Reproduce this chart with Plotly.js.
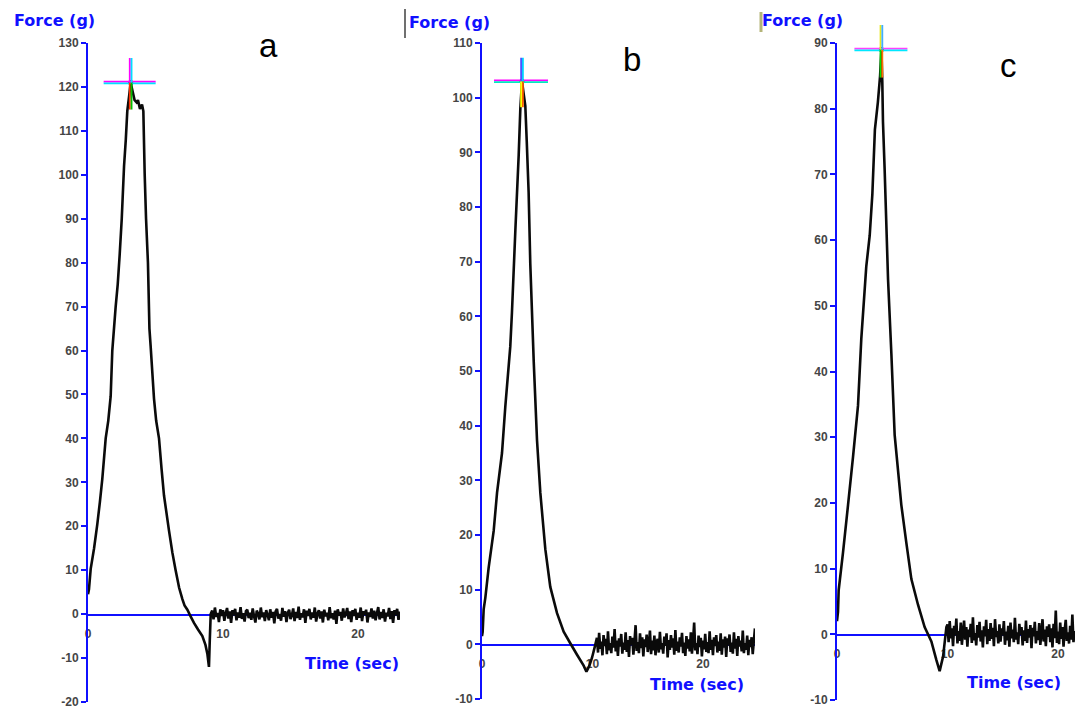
<!DOCTYPE html>
<html><head><meta charset="utf-8">
<script src="https://cdn.plot.ly/plotly-3.0.1.min.js"></script>
<style>html,body{margin:0;padding:0;background:#fff}#chart{width:1075px;height:711px}</style>
</head><body><div id="chart"></div>
<script>
// ---------- DATA ----------
// Panel a: main force trace (time in s, force in g)
const aTime  = [0, 0.07, 0.2, 0.45, 0.69, 0.88, 1.06, 1.31, 1.5, 1.68, 1.8, 2.05, 2.2, 2.35, 2.5, 2.67, 2.8, 2.91, 3.05, 3.16, 3.3, 3.45, 3.6, 3.7, 3.85, 4.0, 4.1, 4.2, 4.3, 4.44, 4.55, 4.64, 4.89, 5.05, 5.26, 5.45, 5.63, 6.0, 6.25, 6.49, 6.75, 6.99, 7.15, 7.36, 7.6, 7.85, 8.15, 8.47, 8.7, 8.84, 8.96, 9.02, 9.09];
const aForce = [4.5, 5.6, 10.3, 15, 20.5, 25.5, 30.8, 40, 44, 49.6, 60, 70, 75, 82, 90, 102, 108, 114.5, 118, 121, 119, 117, 116.5, 117, 115, 116, 114.5, 100, 90, 80, 65, 61, 49, 44, 40, 33, 27, 19, 14, 10, 6, 3.4, 2, 1, -0.5, -2, -3.5, -5, -7, -9, -12, -6, 0];
const aNoiseStart = 9.2, aNoiseStep = 0.1;
const aNoise = [0.8,-1.2,1.5,-0.6,0.3,-1.8,1.1,-0.4,0.9,-1.5,0.2,1.4,-1.0,0.6,-2.0,0.9,-0.3,1.2,-1.4,0.4,
-0.8,1.6,-1.1,0.2,-1.7,0.7,1.0,-0.9,0.3,-1.3,1.3,-0.5,-1.9,0.8,0.1,-1.2,1.5,-0.7,0.4,-1.6,
0.9,-0.2,-1.4,1.1,-0.8,0.5,-2.1,0.6,1.2,-1.0,0.0,-1.5,1.4,-0.6,0.7,-1.8,0.3,1.0,-1.1,-0.3,
1.3,-1.6,0.5,-0.9,1.7,-1.3,0.2,-0.7,1.1,-2.0,0.8,-0.4,1.2,-1.2,0.4,-0.8,1.5,-1.7,0.1,0.9,
-1.0,0.6,-1.9,1.0,-0.5,0.3,-1.4,1.6,-0.9,0.2,-1.2,0.8,-2.2,1.1,-0.3,0.5,-1.5,1.3,-0.7,0.0,
1.4,-1.1,0.6,-1.8,0.9,-0.4,1.2,-1.3,0.3,-0.8,1.5,-1.6,0.7,-0.2,1.0,-1.9,0.4,-0.6,1.3,-1.0,
0.8,-1.4,0.2,1.6,-1.2,0.5,-0.9,1.1,-1.7,0.3,-0.5,1.4,-1.1,0.7,-2.0,0.9,-0.3,1.2,-1.3,0.6];

// Panel b
const bTime  = [0, 0.06, 0.15, 0.3, 0.6, 1.06, 1.36, 1.81, 2.11, 2.56, 2.71, 3.02, 3.32, 3.47, 3.62, 3.75, 3.92, 4.05, 4.22, 4.37, 4.68, 4.98, 5.28, 5.73, 6.18, 6.79, 7.39, 7.99, 8.6, 9.2, 9.45, 9.7, 9.95, 10.2];
const bForce = [1.5, 2.3, 6.4, 8.5, 14, 20.8, 27.7, 35, 43.5, 54.5, 60.7, 75.8, 89.5, 98, 103, 101, 98.5, 92, 82.7, 69.6, 51.8, 37.3, 27.7, 17.4, 10.5, 5.7, 2.3, 0.2, -1.9, -3.9, -5.0, -4.0, -2.5, -0.5];
const bNoiseStart = 10.4, bNoiseStep = 0.1;
const bNoise = [1.2,-1.5,2.1,-0.8,0.5,-2.0,1.7,-0.3,1.0,-1.8,2.4,-1.1,0.2,-1.6,1.4,-0.6,2.8,-1.3,0.7,-2.1,
1.1,-0.4,1.9,-1.7,0.3,-1.0,2.2,-1.4,0.8,-2.3,1.5,-0.2,1.2,-1.9,0.6,3.5,-1.2,0.4,-1.6,2.0,
-0.7,1.3,-2.2,0.9,-0.5,1.8,-1.4,0.1,2.5,-1.8,0.7,-1.1,1.6,-2.0,0.4,1.0,-1.5,2.3,-0.9,0.2,
-1.7,1.4,-0.3,2.0,-2.4,0.8,-1.0,1.7,-0.6,1.1,-1.9,2.6,-1.2,0.5,-1.5,1.3,-0.4,2.1,-1.6,0.3,
-2.1,1.5,-0.8,0.9,-1.3,2.2,-1.7,0.6,4.0,-1.1,0.2,-1.8,1.6,-0.5,1.2,-2.2,0.7,-0.9,1.9,-1.4,
0.4,-1.6,2.4,-1.0,0.8,-2.0,1.3,-0.3,1.7,-1.5,0.5,-1.2,2.0,-1.9,0.9,-0.6,1.4,-2.3,1.1,-0.2,
1.8,-1.4,0.3,-1.7,2.2,-0.8,1.0,-2.1,1.5,-0.4,0.7,-1.3,2.5,-1.6,0.2,-1.0,1.6,-2.0,0.8,-0.5,
1.3,-1.8,0.6,2.9];

// Panel c
const cTime  = [0, 0.09, 0.15, 0.54, 1.0, 1.45, 1.9, 2.2, 2.65, 2.96, 3.2, 3.43, 3.7, 3.9, 4.02, 4.1, 4.16, 4.31, 4.62, 4.92, 5.22, 5.82, 6.27, 6.73, 7.33, 7.93, 8.54, 8.99, 9.29, 9.6, 9.9];
const cForce = [2.0, 3.4, 6.7, 12.4, 19.7, 27, 34.8, 45, 56, 60.7, 67, 76.8, 81, 85, 89, 84, 78, 70.8, 54, 42.7, 30.3, 19.7, 14, 8.4, 4.5, 1.1, -1.1, -3.9, -5.6, -3.4, 1.1];
const cNoiseStart = 10.0, cNoiseStep = 0.1;
const cNoise = [1.5,-1.2,2.0,-0.6,0.9,-1.8,1.3,-0.2,2.4,-1.4,0.5,-1.0,1.8,-1.6,0.3,2.1,-0.8,1.1,-1.9,0.7,
-0.4,1.6,-1.3,2.6,-0.9,0.2,-1.7,1.4,-0.5,1.9,-1.1,0.6,-2.0,1.2,-0.3,2.2,-1.5,0.8,-1.0,1.7,
-0.7,1.0,-1.8,2.3,-0.4,0.5,-1.4,1.5,-1.1,0.9,-0.2,2.0,-1.6,0.4,-0.9,1.3,-1.9,1.8,-0.6,0.7,
-1.2,2.5,-0.8,0.3,-1.5,1.6,-0.1,1.1,-1.7,0.6,-1.0,2.1,-1.3,0.8,-0.5,1.4,-2.1,1.0,-0.3,1.9,
-1.4,0.5,-0.9,1.7,-1.6,0.2,2.3,-1.1,0.7,-1.8,1.2,-0.4,1.5,-1.2,0.9,-2.0,1.6,-0.6,3.6,-1.3,
0.4,-1.5,1.8,-0.7,1.1,-1.9,0.6,2.2,-1.0,0.3,-1.4,1.3,-0.8,3.0,-1.2,0.5];

// Peak markers (crosshair centres)
const peakTime  = [3.16, 3.62, 4.02];
const peakForce = [121, 103, 89];

// Tick labels
const aYTicks = [-20,-10,0,10,20,30,40,50,60,70,80,90,100,110,120,130];
const bYTicks = [-10,0,10,20,30,40,50,60,70,80,90,100,110];
const cYTicks = [-10,0,10,20,30,40,50,60,70,80,90];
const xTicks  = [0,10,20];

const panelLetters = ['a','b','c'];
const yTitle = 'Force (g)';
const xTitle = 'Time (sec)';

// ---------- BUILD ----------
const W = 1075, H = 711;
const BLUE = '#1010ff';
const px = x => x / W;
const py = y => 1 - y / H;

function series(t, f, start, step, noise) {
  const xs = t.slice(), ys = f.slice();
  noise.forEach((v, i) => { xs.push(+(start + i * step).toFixed(3)); ys.push(v); });
  return {xs, ys};
}

const sa = series(aTime, aForce, aNoiseStart, aNoiseStep, aNoise);
const sb = series(bTime, bForce, bNoiseStart, bNoiseStep, bNoise);
const sc = series(cTime, cForce, cNoiseStart, cNoiseStep, cNoise);

// crosshair styles
const crossStyles = [
  {L: 27, R: 25, U: 26, D: 27, hTop: '#ff00ff', hBot: '#00e0ff', vTL: '#ff00ff', vTR: '#00e0ff', vBL: '#ff3000', vBR: '#00c000'},
  {L: 28, R: 26, U: 25, D: 26, hTop: '#ff00ff', hBot: '#00e8c0', vTL: '#5050ff', vTR: '#00d0ff', vBL: '#ffff00', vBR: '#ff6000'},
  {L: 27, R: 26, U: 26, D: 28, hTop: '#ff40ff', hBot: '#00e8ff', vTL: '#e8e820', vTR: '#40b0ff', vBL: '#00e000', vBR: '#ff7000'},
];

const lineStyle = {color: '#0a0a0a', width: 2.6, simplify: false};
const axNames = [['x','y'],['x2','y2'],['x3','y3']];
const traces = [
  {x: sa.xs, y: sa.ys, xaxis: 'x', yaxis: 'y', mode: 'lines', line: lineStyle, hoverinfo: 'skip'},
  {x: sb.xs, y: sb.ys, xaxis: 'x2', yaxis: 'y2', mode: 'lines', line: lineStyle, hoverinfo: 'skip'},
  {x: sc.xs, y: sc.ys, xaxis: 'x3', yaxis: 'y3', mode: 'lines', line: lineStyle, hoverinfo: 'skip'},
];

// panel geometry (pixels)
const P = [
  {xl: 88, xr: 400, yt: 43, yb: 702, xmax: 312/13.5, yr: [-20,130], ticks: aYTicks},
  {xl: 482, xr: 755, yt: 43, yb: 699, xmax: 273/11.05, yr: [-10,110], ticks: bYTicks},
  {xl: 837, xr: 1075, yt: 43, yb: 700, xmax: 238/11.05, yr: [-10,90], ticks: cYTicks},
];
const tickFont = {family: 'Liberation Sans, Arial, sans-serif', size: 12, color: '#454545', weight: 'bold'};

const layout = {
  width: W, height: H, margin: {l: 0, r: 0, t: 0, b: 0},
  paper_bgcolor: '#fff', plot_bgcolor: 'rgba(0,0,0,0)', showlegend: false,
  shapes: [], annotations: []
};
P.forEach((p, i) => {
  const sfx = i === 0 ? '' : String(i + 1);
  const yd = [py(p.yb), py(p.yt)];
  const zeroPos = yd[0] + (0 - p.yr[0]) / (p.yr[1] - p.yr[0]) * (yd[1] - yd[0]);
  layout['xaxis' + sfx] = {
    domain: [px(p.xl), px(p.xr)], range: [0, p.xmax], anchor: 'free', position: zeroPos,
    showline: true, linecolor: BLUE, linewidth: 1.5, layer: 'below traces',
    ticks: 'outside', ticklen: 8, tickcolor: 'rgba(0,0,0,0)',
    tickvals: xTicks, ticktext: xTicks.map(String),
    showgrid: false, zeroline: false, tickfont: tickFont, fixedrange: true
  };
  layout['yaxis' + sfx] = {
    domain: yd, range: p.yr, anchor: 'x' + sfx,
    showline: true, linecolor: BLUE, linewidth: 2,
    ticks: 'outside', ticklen: 5, tickwidth: 2, tickcolor: BLUE,
    tickvals: p.ticks, ticktext: p.ticks.map(String),
    showgrid: false, zeroline: false, tickfont: tickFont, fixedrange: true
  };
});

// crosshairs: horizontal arm and lower arm as shapes; upper arm as arrow-less annotation lines (not clipped)
crossStyles.forEach((c, i) => {
  const sfx = i === 0 ? '' : String(i + 1);
  const base = {type: 'line', xref: 'x' + sfx, yref: 'y' + sfx, xsizemode: 'pixel', ysizemode: 'pixel',
    xanchor: peakTime[i], yanchor: peakForce[i], layer: 'above'};
  layout.shapes.push(
    {...base, x0: -c.L, x1: c.R, y0: 0.9, y1: 0.9, line: {color: c.hTop, width: 1.8}},
    {...base, x0: -c.L, x1: c.R, y0: -0.9, y1: -0.9, line: {color: c.hBot, width: 1.8}},
    {...base, x0: -0.9, x1: -0.9, y0: 0, y1: -c.D, line: {color: c.vBL, width: 1.8}},
    {...base, x0: 0.9, x1: 0.9, y0: 0, y1: -c.D, line: {color: c.vBR, width: 1.8}}
  );
  [[-0.9, c.vTL], [0.9, c.vTR]].forEach(([dx, col]) => {
    layout.annotations.push({x: peakTime[i], y: peakForce[i], xref: 'x' + sfx, yref: 'y' + sfx,
      text: '', showarrow: true, arrowhead: 0, arrowwidth: 1.8, arrowcolor: col,
      ax: 0, ay: -c.U, axref: 'pixel', ayref: 'pixel', standoff: 0, startstandoff: 0, xshift: dx});
  });
});
// peak dots on top
axNames.forEach(([xa, ya], i) => {
  traces.push({x: [peakTime[i]], y: [peakForce[i]], xaxis: xa, yaxis: ya, mode: 'markers', cliponaxis: false,
    marker: {color: '#000', size: 5}, hoverinfo: 'skip'});
});
// small cursor bars next to titles (b, c)
layout.shapes.push(
  {type: 'line', xref: 'paper', yref: 'paper', x0: px(405), x1: px(405), y0: py(9), y1: py(38), line: {color: '#707070', width: 2}},
  {type: 'line', xref: 'paper', yref: 'paper', x0: px(761), x1: px(761), y0: py(12), y1: py(32), line: {color: '#b4b478', width: 3}}
);

const titleFont = {family: 'DejaVu Sans, sans-serif', size: 16, color: BLUE, weight: 'bold'};
const yTitlePos = [[54, 21], [449, 22], [802, 20]];
const xTitlePos = [[352, 663], [697, 684], [1014, 682]];
const letterPos = [[268, 46], [632, 60], [1008, 65]];
for (let i = 0; i < 3; i++) {
  layout.annotations.push(
    {text: '<b>' + yTitle + '</b>', xref: 'paper', yref: 'paper', x: px(yTitlePos[i][0]), y: py(yTitlePos[i][1]),
     xanchor: 'center', yanchor: 'middle', showarrow: false, font: titleFont},
    {text: '<b>' + xTitle + '</b>', xref: 'paper', yref: 'paper', x: px(xTitlePos[i][0]), y: py(xTitlePos[i][1]),
     xanchor: 'center', yanchor: 'middle', showarrow: false, font: titleFont},
    {text: panelLetters[i], xref: 'paper', yref: 'paper', x: px(letterPos[i][0]), y: py(letterPos[i][1]),
     xanchor: 'center', yanchor: 'middle', showarrow: false,
     font: {family: 'Liberation Sans, Arial, sans-serif', size: 33, color: '#000'}}
  );
}

Plotly.newPlot('chart', traces, layout, {staticPlot: true, displayModeBar: false});
</script></body></html>
